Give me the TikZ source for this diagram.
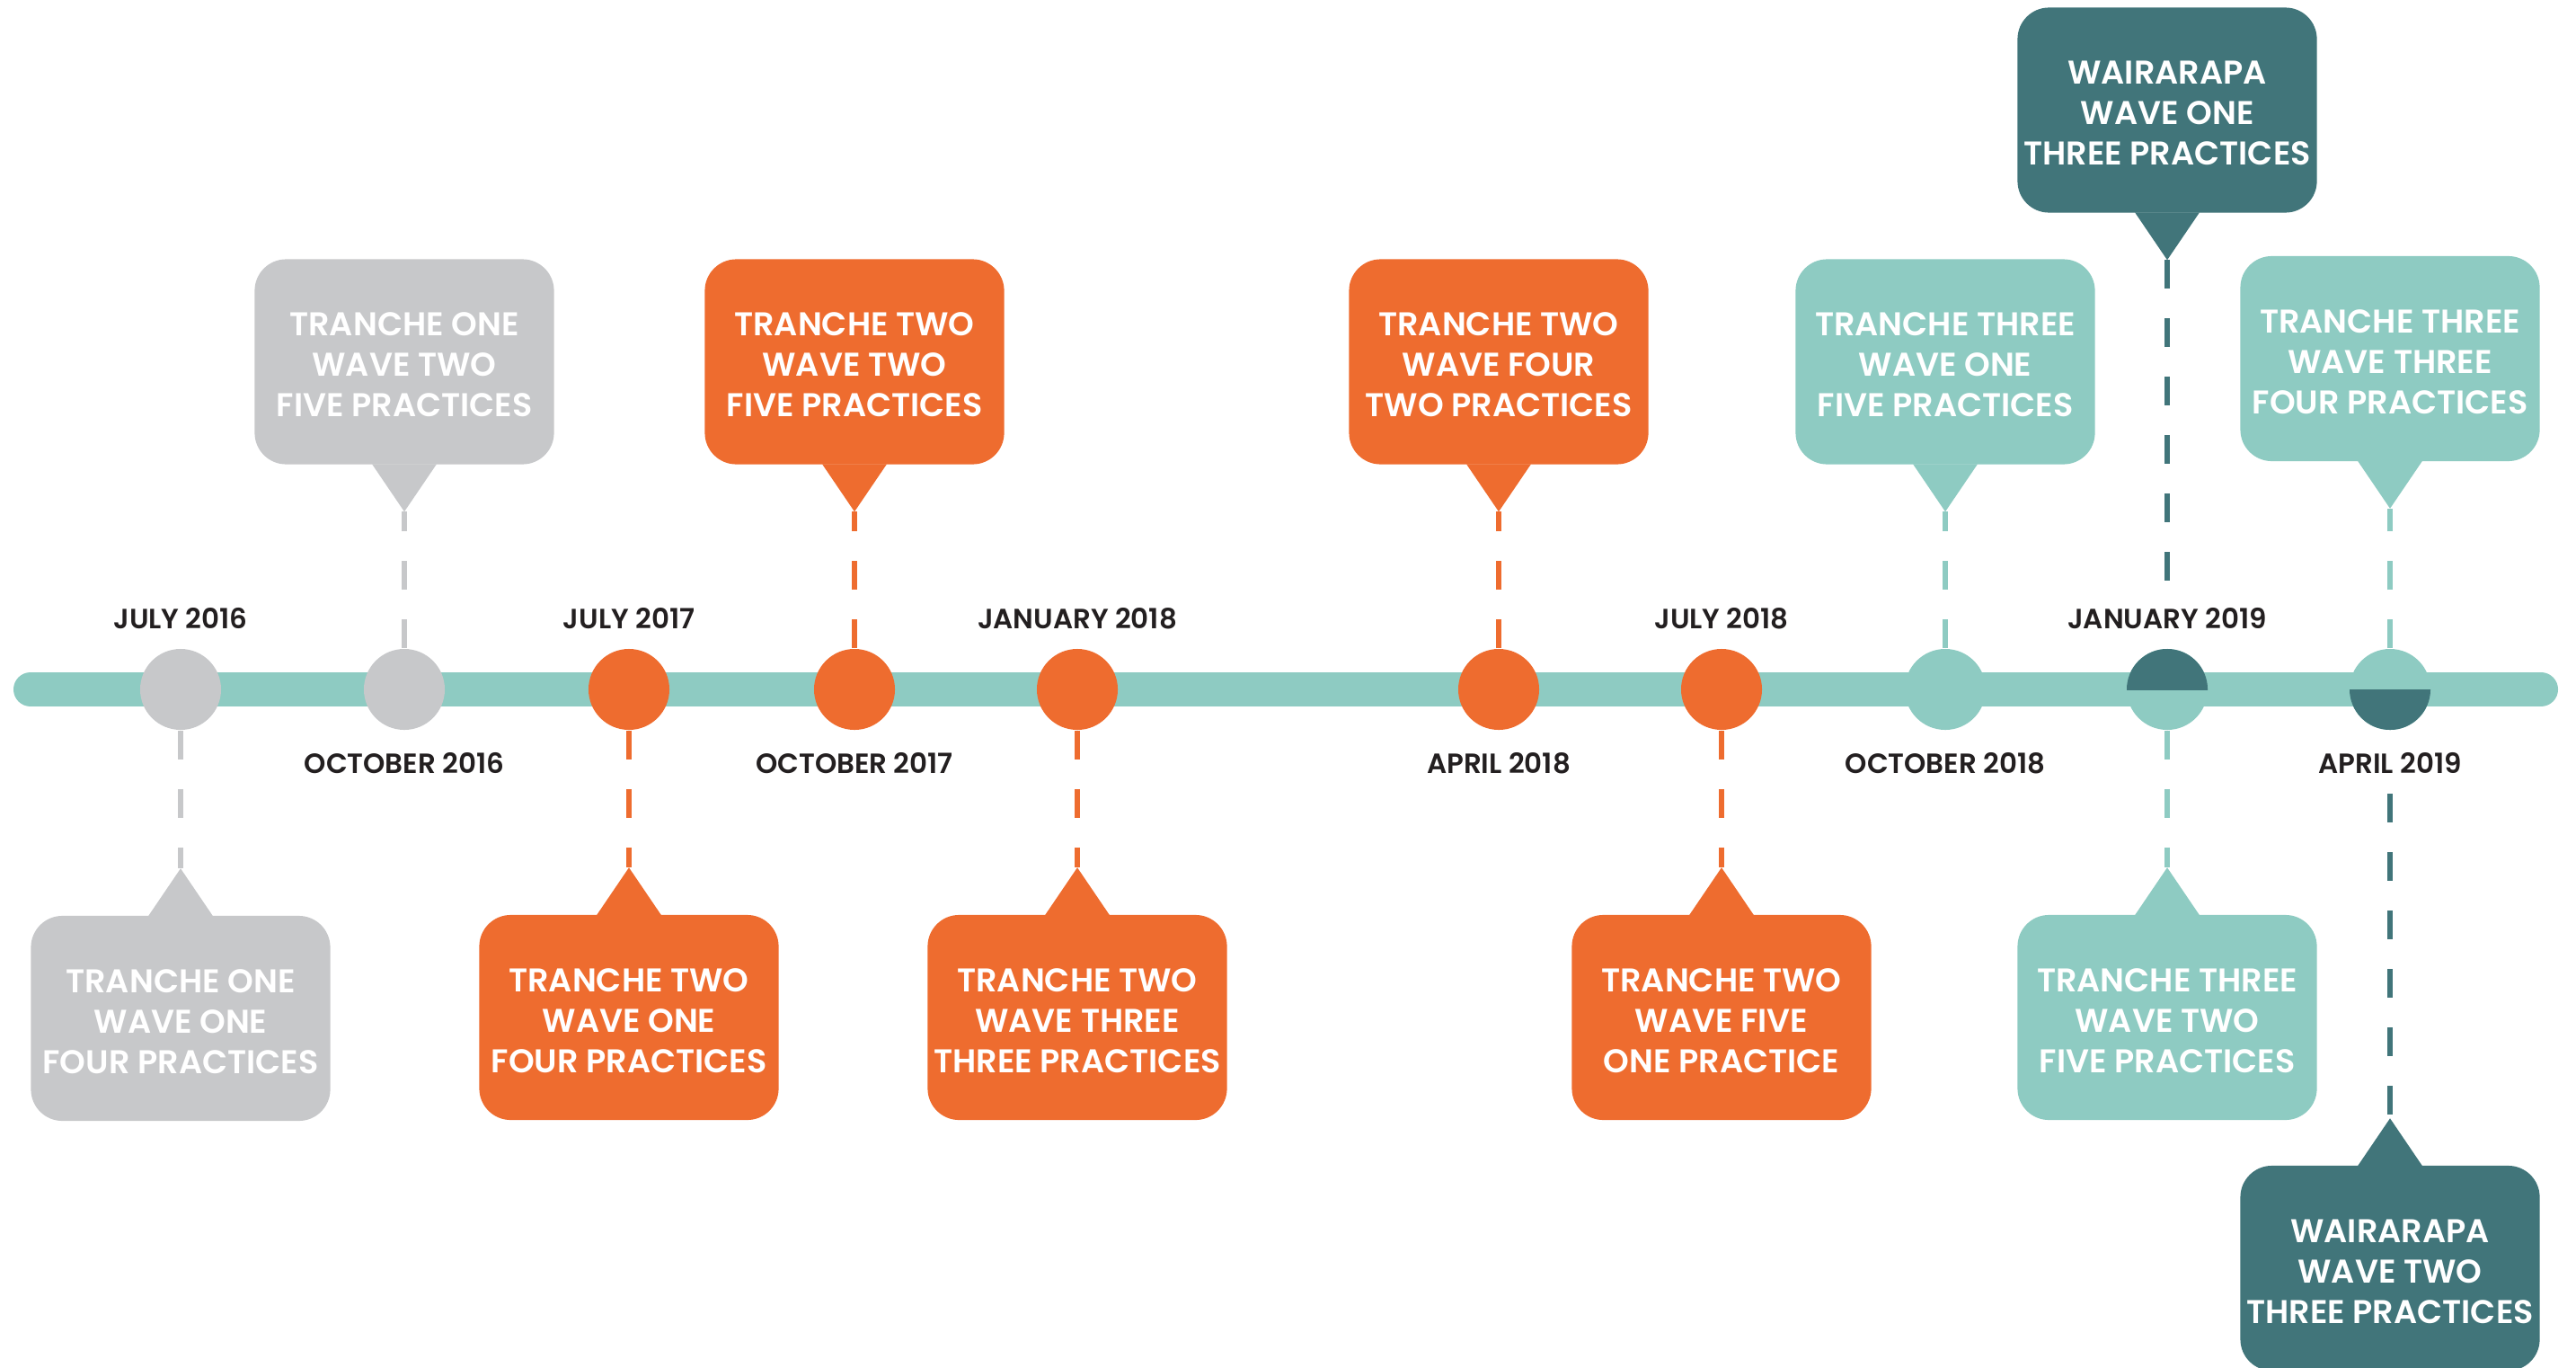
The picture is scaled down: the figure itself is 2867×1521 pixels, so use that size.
\documentclass[tikz,border=0pt]{standalone}
\usepackage{fontspec}
\setmainfont{Poppins SemiBold}
\usetikzlibrary{calc}
\definecolor{tgray}{HTML}{C7C8CA}
\definecolor{torange}{HTML}{EE6C2F}
\definecolor{tlight}{HTML}{8ECBC2}
\definecolor{tdark}{HTML}{41757A}
\definecolor{ttext}{HTML}{231F20}
\newcommand\tp{\rule{0pt}{9.3pt}}
\newcommand\tailbelow[3]{%
  \coordinate (#3) at ($(#1.south)+(0,52)$);
  \fill[#2] ($(#1.south)+(-36,-1)$) -- (#3) -- ($(#1.south)+(36,-1)$) -- cycle;}
\newcommand\tailabove[3]{%
  \coordinate (#3) at ($(#1.north)+(0,-52)$);
  \fill[#2] ($(#1.north)+(-36,1)$) -- (#3) -- ($(#1.north)+(36,1)$) -- cycle;}
\begin{document}
\begin{tikzpicture}[x=0.01cm,y=-0.01cm,
  bubble/.style={rounded corners=0.35cm, minimum width=3.33cm, minimum height=2.28cm, inner sep=0pt, align=center, text=white, font=\fontsize{10.4}{12.8}\selectfont},
  dot/.style={circle, minimum size=0.9cm, inner sep=0pt},
  datelbl/.style={text=ttext, font=\fontsize{8.8}{10}\selectfont, inner sep=0pt, anchor=base},
  conn/.style={line width=0.055cm, dash pattern=on 0.32cm off 0.33cm}]
\useasboundingbox (0,0) rectangle (2867,1521);
\clip (0,0) rectangle (2867,1521);
% timeline bar
\draw[tlight, line width=0.38cm, line cap=round] (34,767) -- (2828,767);
% circles
\node[dot, fill=tgray]   (d1)  at (201,767) {};
\node[dot, fill=tgray]   (d2)  at (450,767) {};
\node[dot, fill=torange] (d3)  at (700,767) {};
\node[dot, fill=torange] (d4)  at (951,767) {};
\node[dot, fill=torange] (d5)  at (1199,767) {};
\node[dot, fill=torange] (d6)  at (1668,767) {};
\node[dot, fill=torange] (d7)  at (1916,767) {};
\node[dot, fill=tlight]  (d8)  at (2165,767) {};
\node[dot, fill=tlight]  (d9)  at (2412,767) {};
\node[dot, fill=tlight]  (d10) at (2660,767) {};
\begin{scope}
  \clip ($(d9.center)+(-50,0)$) rectangle ($(d9.center)+(50,-50)$);
  \fill[tdark] (d9.center) circle[radius=0.45cm];
\end{scope}
\begin{scope}
  \clip ($(d10.center)+(-50,0)$) rectangle ($(d10.center)+(50,50)$);
  \fill[tdark] (d10.center) circle[radius=0.45cm];
\end{scope}
% date labels
\node[datelbl] (l1)  at (201,699)  {JULY 2016};
\node[datelbl] (l2)  at (450,860)  {OCTOBER 2016};
\node[datelbl] (l3)  at (700,699)  {JULY 2017};
\node[datelbl] (l4)  at (951,860)  {OCTOBER 2017};
\node[datelbl] (l5)  at (1199,699) {JANUARY 2018};
\node[datelbl] (l6)  at (1668,860) {APRIL 2018};
\node[datelbl] (l7)  at (1916,699) {JULY 2018};
\node[datelbl] (l8)  at (2165,860) {OCTOBER 2018};
\node[datelbl] (l9)  at (2412,699) {JANUARY 2019};
\node[datelbl] (l10) at (2660,860) {APRIL 2019};
% bubbles above
\node[bubble, fill=tgray]   (b2) at (450,402.5)  {\tp TRANCHE ONE\\WAVE TWO\\FIVE PRACTICES};
\node[bubble, fill=torange] (b4) at (951,402.5)  {\tp TRANCHE TWO\\WAVE TWO\\FIVE PRACTICES};
\node[bubble, fill=torange] (b6) at (1668,402.5) {\tp TRANCHE TWO\\WAVE FOUR\\TWO PRACTICES};
\node[bubble, fill=tlight]  (b8) at (2165,402.5) {\tp TRANCHE THREE\\WAVE ONE\\FIVE PRACTICES};
\node[bubble, fill=tdark]   (bw1) at (2412,122.5) {\tp WAIRARAPA\\WAVE ONE\\THREE PRACTICES};
\node[bubble, fill=tlight]  (b10) at (2660,399)  {\tp TRANCHE THREE\\WAVE THREE\\FOUR PRACTICES};
\tailbelow{b2}{tgray}{p2}
\tailbelow{b4}{torange}{p4}
\tailbelow{b6}{torange}{p6}
\tailbelow{b8}{tlight}{p8}
\tailbelow{bw1}{tdark}{pw1}
\tailbelow{b10}{tlight}{p10}
% bubbles below
\node[bubble, fill=tgray]   (b1) at (201,1133)  {\tp TRANCHE ONE\\WAVE ONE\\FOUR PRACTICES};
\node[bubble, fill=torange] (b3) at (700,1132)  {\tp TRANCHE TWO\\WAVE ONE\\FOUR PRACTICES};
\node[bubble, fill=torange] (b5) at (1199,1132) {\tp TRANCHE TWO\\WAVE THREE\\THREE PRACTICES};
\node[bubble, fill=torange] (b7) at (1916,1132) {\tp TRANCHE TWO\\WAVE FIVE\\ONE PRACTICE};
\node[bubble, fill=tlight]  (b9) at (2412,1132) {\tp TRANCHE THREE\\WAVE TWO\\FIVE PRACTICES};
\node[bubble, fill=tdark]   (bw2) at (2660,1411) {\tp WAIRARAPA\\WAVE TWO\\THREE PRACTICES};
\tailabove{b1}{tgray}{p1}
\tailabove{b3}{torange}{p3}
\tailabove{b5}{torange}{p5}
\tailabove{b7}{torange}{p7}
\tailabove{b9}{tlight}{p9}
\tailabove{bw2}{tdark}{pw2}
% connectors
\draw[conn, tgray]   (d2.north)  -- (p2);
\draw[conn, torange] (d4.north)  -- (p4);
\draw[conn, torange] (d6.north)  -- (p6);
\draw[conn, tlight]  (d8.north)  -- (p8);
\draw[conn, tlight]  (d10.north) -- (p10);
\coordinate (w1end) at (2412,650);
\draw[conn, tdark] (pw1) -- (w1end);
\draw[conn, tgray]   (d1.south) -- (p1);
\draw[conn, torange] (d3.south) -- (p3);
\draw[conn, torange] (d5.south) -- (p5);
\draw[conn, torange] (d7.south) -- (p7);
\draw[conn, tlight]  (d9.south) -- (p9);
\coordinate (w2start) at (2660,883);
\draw[conn, tdark] (w2start) -- (pw2);
\end{tikzpicture}
\end{document}
